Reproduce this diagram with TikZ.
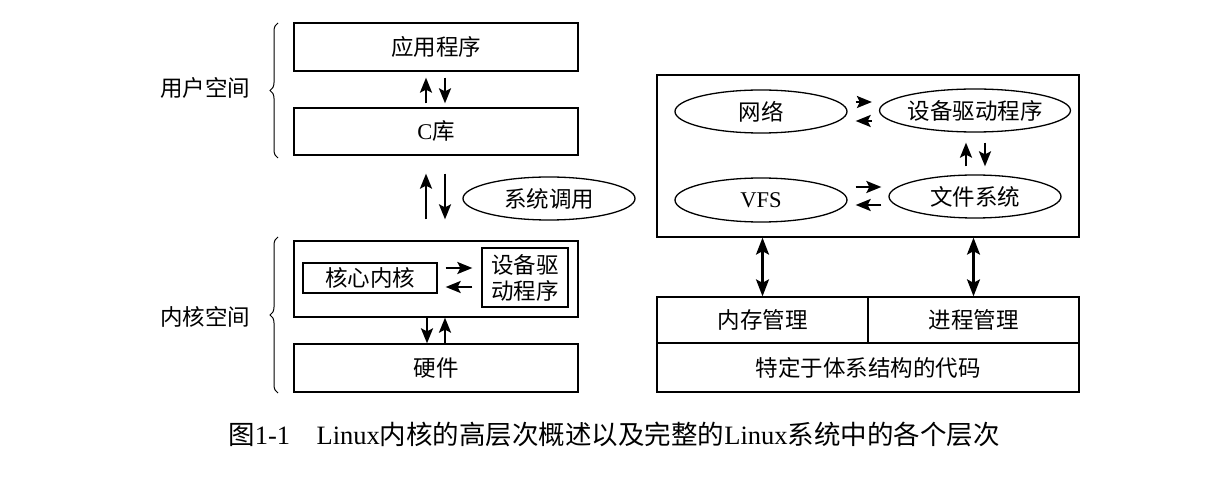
\documentclass[tikz,border=0pt]{standalone}
\usepackage{fontspec}
\setmainfont{Liberation Serif}
\newfontfamily\cjk{Noto Sans CJK SC}
\usetikzlibrary{shapes.geometric,arrows.meta,decorations.pathreplacing}
\begin{document}
\begin{tikzpicture}[x=1pt,y=-1pt,
  lbl/.style={font=\fontsize{22.5}{26}\selectfont\cjk},
  box/.style={draw,line width=1.3pt,rectangle,inner sep=0pt,lbl},
  ell/.style={draw,line width=1.3pt,ellipse,inner sep=0pt,lbl},
  arr/.style={line width=2.2pt,-{Stealth[length=15pt,width=12pt,inset=3pt]}},
  darr/.style={line width=2.2pt,{Stealth[length=17pt,width=13pt,inset=3.5pt]}-{Stealth[length=17pt,width=13pt,inset=3.5pt]}},
  brc/.style={decorate,decoration={brace,amplitude=8pt},line width=1pt}]
\useasboundingbox (0,0) rectangle (1226,486);
% ---------- left column ----------
\node[box,minimum width=284pt,minimum height=48pt] (app) at (436,47) {应用程序};
\node[box,minimum width=284pt,minimum height=47pt] (clib) at (436,131.5) {{\rmfamily C}库};
\node[ell,minimum width=172pt,minimum height=43pt] (sys) at (549,198.5) {系统调用};
\node[box,minimum width=284pt,minimum height=76pt] (kern) at (436,279) {};
\node[box,minimum width=134pt,minimum height=30pt] (core) at (370,278) {核心内核};
\node[box,minimum width=86pt,minimum height=59pt,align=center] (kdrv) at (525,277.5) {设备驱\\动程序};
\node[box,minimum width=284pt,minimum height=48pt] (hw) at (436,368) {硬件};
\node[lbl] (us) at (205,88) {用户空间};
\node[lbl] (ks) at (205,317) {内核空间};
\draw[brc] (278,158) -- (278,23);
\draw[brc] (278,393) -- (278,237);
% arrows app <-> clib
\draw[arr] ([xshift=-10pt,yshift=4pt]clib.north) -- ([xshift=-10pt,yshift=-6pt]app.south);
\draw[arr] ([xshift=9pt,yshift=-6pt]app.south) -- ([xshift=9pt,yshift=4pt]clib.north);
% system call arrows
\draw[arr] ([xshift=-10pt,yshift=21pt]kern.north) -- ([xshift=-10pt,yshift=-18pt]clib.south);
\draw[arr] ([xshift=9pt,yshift=-18pt]clib.south) -- ([xshift=9pt,yshift=21pt]kern.north);
% core <-> driver
\draw[arr] ([xshift=8pt,yshift=10pt]core.east) -- ([xshift=-9pt,yshift=9.5pt]kdrv.west);
\draw[arr] ([xshift=-9pt,yshift=-9.5pt]kdrv.west) -- ([xshift=8pt,yshift=-9pt]core.east);
% kernel <-> hardware
\draw[arr] ([xshift=-9pt]kern.south) -- ([xshift=-9pt]hw.north);
\draw[arr] ([xshift=9pt]hw.north) -- ([xshift=9pt]kern.south);
% ---------- right column ----------
\node[box,minimum width=422pt,minimum height=162pt] (sbox) at (868,156) {};
\node[ell,minimum width=172pt,minimum height=43pt] (net) at (761,111.5) {网络};
\node[ell,minimum width=172pt,minimum height=43pt] (drv) at (975,110.5) {设备驱动程序};
\node[ell,minimum width=172pt,minimum height=44pt] (vfs) at (761,200) {{\rmfamily VFS}};
\node[ell,minimum width=172pt,minimum height=43pt] (fs) at (975,196.5) {文件系统};
\node[box,minimum width=211pt,minimum height=46pt] (mem) at (762.5,320) {内存管理};
\node[box,minimum width=211pt,minimum height=46pt] (proc) at (973.5,320) {进程管理};
\node[box,minimum width=422pt,minimum height=49pt] (arch) at (868,367.5) {特定于体系结构的代码};
% net <-> drv
\draw[arr] ([xshift=8pt,yshift=9.5pt]net.east) -- ([xshift=-7pt,yshift=8.5pt]drv.west);
\draw[arr] ([xshift=-7pt,yshift=-10.5pt]drv.west) -- ([xshift=8pt,yshift=-9.5pt]net.east);
% vfs <-> fs
\draw[arr] ([xshift=8pt,yshift=13pt]vfs.east) -- ([xshift=-7pt,yshift=9.5pt]fs.west);
\draw[arr] ([xshift=-7pt,yshift=-8.5pt]fs.west) -- ([xshift=8pt,yshift=-5pt]vfs.east);
% drv <-> fs
\draw[arr] ([xshift=-9pt,yshift=8pt]fs.north) -- ([xshift=-9pt,yshift=-10pt]drv.south);
\draw[arr] ([xshift=10pt,yshift=-10pt]drv.south) -- ([xshift=10pt,yshift=8pt]fs.north);
% box <-> mem / proc
\draw[darr] (mem.north |- sbox.south) -- (mem.north);
\draw[darr] (proc.north |- sbox.south) -- (proc.north);
% caption
\node[font=\fontsize{26.5}{30}\selectfont\cjk] (cap) at (614,434) {图{\rmfamily 1-1}\hspace{1em}{\rmfamily Linux}内核的高层次概述以及完整的{\rmfamily Linux}系统中的各个层次};
\end{tikzpicture}
\end{document}
